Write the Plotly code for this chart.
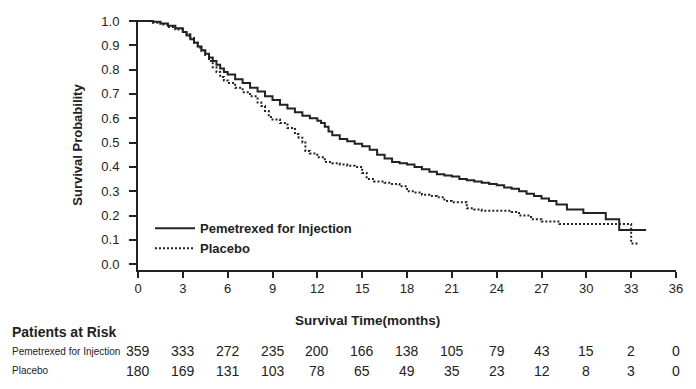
import plotly.graph_objects as go

# Kaplan-Meier curves
pem_t = [0, .5, 1, 1.5, 2, 2.5, 3, 3.25, 3.5, 3.75, 4, 4.25, 4.5, 4.75, 5, 5.25, 5.5, 5.75,
         6, 6.5, 7, 7.5, 8, 8.5, 9, 9.5, 10, 10.5, 11, 11.5, 12, 12.25, 12.5, 12.75, 13,
         13.5, 14, 14.5, 15, 15.5, 16, 16.5, 17, 17.5, 18, 18.5, 19, 19.5, 20, 20.5, 21,
         21.5, 22, 22.5, 23, 23.5, 24, 24.5, 25, 25.5, 26, 26.5, 27, 27.5, 28, 28.7, 29.8,
         31.3, 32.2, 34.0]
pem_s = [1.0, 1.0, .997, .99, .98, .97, .955, .94, .925, .91, .895, .88, .865, .85, .835,
         .82, .805, .79, .78, .76, .745, .725, .71, .69, .675, .655, .64, .625, .61, .60,
         .59, .58, .565, .545, .53, .515, .505, .495, .485, .47, .45, .435, .42, .415, .41,
         .40, .39, .38, .37, .365, .36, .35, .345, .34, .335, .33, .325, .315, .31, .30,
         .29, .28, .27, .26, .245, .225, .21, .185, .14, .14]

pla_t = [0, .5, 1, 1.5, 2, 2.5, 3, 3.25, 3.5, 3.75, 4, 4.25, 4.5, 4.75, 5, 5.25, 5.5, 5.75,
         6, 6.5, 7, 7.5, 8, 8.25, 8.5, 8.75, 9, 9.5, 10, 10.5, 10.75, 11, 11.2, 11.5, 12,
         12.5, 13, 13.5, 14, 14.5, 15, 15.3, 15.8, 16.5, 17, 17.5, 18, 18.5, 19, 19.5, 20,
         20.5, 21, 21.5, 22, 22.5, 23, 24, 25, 25.5, 26.3, 27, 28.2, 33.0, 33.5]
pla_s = [1.0, 1.0, .993, .985, .975, .965, .955, .945, .93, .91, .89, .875, .86, .835, .81,
         .79, .77, .755, .745, .725, .707, .69, .665, .65, .63, .605, .595, .58, .56, .535,
         .52, .50, .465, .455, .44, .42, .415, .41, .405, .40, .375, .35, .34, .335, .33,
         .32, .30, .295, .285, .28, .275, .26, .255, .255, .23, .225, .22, .22, .215, .20,
         .185, .175, .165, .085, .085]

x_ticks = list(range(0, 37, 3))
y_ticks = [0.0, 0.1, 0.2, 0.3, 0.4, 0.5, 0.6, 0.7, 0.8, 0.9, 1.0]
risk_pem = [359, 333, 272, 235, 200, 166, 138, 105, 79, 43, 15, 2, 0]
risk_pla = [180, 169, 131, 103, 78, 65, 49, 35, 23, 12, 8, 3, 0]
series_names = ["Pemetrexed for Injection", "Placebo"]

FONT = "Liberation Sans, Arial, sans-serif"
NARROW = "Liberation Sans Narrow, Arial Narrow, Liberation Sans, sans-serif"
INK = "#222222"

# page has an 8px body margin; figure is sized so it ends at the window edge
W, H = 688, 381
L, R, T, B = 130, 20, 6, 119
PW, PH = W - L - R, H - T - B


def px(xp):  # page-x (reference pixel) -> paper x
    return (xp - 8 - L) / PW


def py(yp):  # page-y (reference pixel) -> paper y
    return (H - B - (yp - 8)) / PH


fig = go.Figure()
fig.add_trace(go.Scatter(x=pem_t, y=pem_s, mode="lines", line_shape="hv",
                         line=dict(color=INK, width=2), name=series_names[0], cliponaxis=False))
fig.add_trace(go.Scatter(x=pla_t, y=pla_s, mode="lines", line_shape="hv",
                         line=dict(color=INK, width=2, dash="2px,2px"), name=series_names[1],
                         cliponaxis=False))

fig.update_layout(
    width=W, height=H,
    margin=dict(l=L, r=R, t=T, b=B),
    paper_bgcolor="white", plot_bgcolor="white",
    font=dict(family=FONT, size=12, color=INK),
    showlegend=True,
    legend=dict(x=px(150), y=py(212), xanchor="left", yanchor="top",
                font=dict(family=FONT, size=13, color=INK, weight="bold"),
                bgcolor="rgba(0,0,0,0)", tracegroupgap=0, itemwidth=40),
    xaxis=dict(range=[0, 36], tickvals=x_ticks, ticktext=[str(v) for v in x_ticks],
               showgrid=False, zeroline=False, showline=True, linecolor=INK, linewidth=1.5,
               ticks="outside", ticklen=6, tickcolor=INK, tickwidth=1.5,
               ticklabeloverflow="allow",
               tickfont=dict(size=13, color=INK)),
    yaxis=dict(range=[-0.024, 1.004], tickvals=y_ticks,
               ticktext=[f"{v:.1f}\u00a0\u00a0" for v in y_ticks],
               showgrid=False, zeroline=False, showline=True, linecolor=INK, linewidth=1.5,
               ticks="outside", ticklen=7, tickcolor=INK, tickwidth=1.5,
               ticklabeloverflow="allow",
               tickfont=dict(size=13, color=INK),
               title=dict(text="<b>Survival Probability</b>", font=dict(size=13), standoff=16)),
)

ann = [
    dict(text="<b>Survival Time(months)</b>", x=px(367), xref="paper", y=py(322), yref="paper",
         xanchor="center", yanchor="middle", showarrow=False, font=dict(size=13.5, color=INK)),
    dict(text="<b>Patients at Risk</b>", x=px(10), xref="paper", y=py(333), yref="paper",
         xanchor="left", yanchor="middle", showarrow=False, font=dict(size=14, color=INK)),
    dict(text=series_names[0], x=px(10), xref="paper", y=py(353), yref="paper",
         xanchor="left", yanchor="middle", showarrow=False,
         font=dict(family=NARROW, size=10, color=INK)),
    dict(text=series_names[1], x=px(10), xref="paper", y=py(373), yref="paper",
         xanchor="left", yanchor="middle", showarrow=False,
         font=dict(family=NARROW, size=10, color=INK)),
]
for t, a, b in zip(x_ticks, risk_pem, risk_pla):
    ann.append(dict(text=str(a), x=t, xref="x", y=py(353), yref="paper",
                    xanchor="center", yanchor="middle", showarrow=False,
                    font=dict(family=NARROW, size=14, color=INK)))
    ann.append(dict(text=str(b), x=t, xref="x", y=py(373), yref="paper",
                    xanchor="center", yanchor="middle", showarrow=False,
                    font=dict(family=NARROW, size=14, color=INK)))
fig.update_layout(annotations=ann)

fig.write_html("out.html")
